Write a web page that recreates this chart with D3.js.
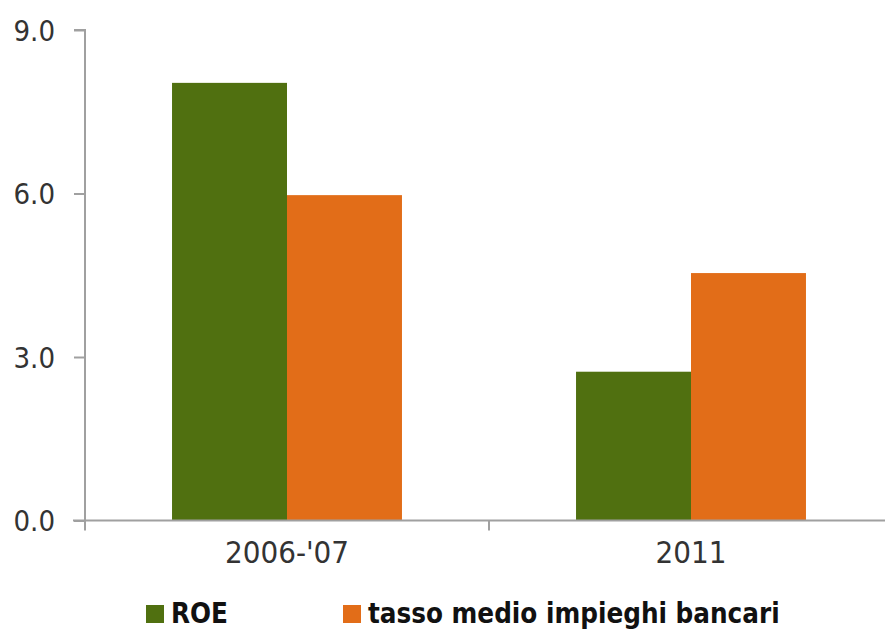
<!DOCTYPE html>
<html>
<head>
<meta charset="utf-8">
<script src="https://d3js.org/d3.v7.min.js"></script>
<style>
  body { margin: 0; background: #fff; }
  svg { display: block; }
  .lbl { font-family: "DejaVu Sans Condensed", "DejaVu Sans", sans-serif; fill: #333; }
  .leg { font-family: "DejaVu Sans Condensed", "DejaVu Sans", sans-serif; font-weight: bold; fill: #111; }
</style>
</head>
<body>
<script>
// data
var categories = ["2006-'07", "2011"];
var seriesNames = ["ROE", "tasso medio impieghi bancari"];
var roe = [8.03, 2.73];
var tasso = [5.97, 4.54];
var yTicks = [0, 3, 6, 9];
var colors = ["#507010", "#e26d18"];

var width = 885, height = 629;
var plotLeft = 85, plotTop = 30, plotBottom = 520.5, plotRight = 893;

var svg = d3.select("body").append("svg")
    .attr("width", width)
    .attr("height", height);

var x0 = d3.scaleBand()
    .domain(categories)
    .range([plotLeft, plotRight])
    .padding(0);

var x1 = d3.scaleBand()
    .domain(seriesNames)
    .range([0, x0.bandwidth()])
    .paddingInner(0)
    .paddingOuter(0.757);

var y = d3.scaleLinear()
    .domain([0, 9])
    .range([plotBottom, plotTop]);

var rows = categories.map(function(c, i) {
  return { cat: c, vals: [roe[i], tasso[i]] };
});

// bars
var g = svg.append("g").selectAll("g")
    .data(rows)
  .enter().append("g")
    .attr("transform", function(d) { return "translate(" + x0(d.cat) + ",0)"; });

g.selectAll("rect")
    .data(function(d) { return d.vals.map(function(v, j) { return { s: seriesNames[j], v: v, j: j }; }); })
  .enter().append("rect")
    .attr("x", function(d) { return x1(d.s); })
    .attr("y", function(d) { return y(d.v); })
    .attr("width", x1.bandwidth())
    .attr("height", function(d) { return y(0) - y(d.v); })
    .attr("fill", function(d) { return colors[d.j]; });

// y axis
var yAxis = svg.append("g")
    .attr("transform", "translate(" + plotLeft + ",0)")
    .call(d3.axisLeft(y).tickValues(yTicks).tickFormat(d3.format(".1f")).tickSize(11).tickPadding(19));
yAxis.select(".domain").attr("d", "M-11," + plotTop + "H0V" + (plotBottom + 10));

// x axis
var xAxis = svg.append("g")
    .attr("transform", "translate(0," + plotBottom + ")")
    .call(d3.axisBottom(x0).tickSize(0).tickPadding(20));
xAxis.select(".domain").attr("d", "M" + (plotLeft - 12) + ",0H" + plotRight);
xAxis.append("line")
    .attr("x1", x0(categories[1])).attr("x2", x0(categories[1]))
    .attr("y1", 0).attr("y2", 10);

svg.selectAll(".domain, .tick line, g > line")
    .attr("stroke", "#a0a0a0")
    .attr("stroke-width", 2);

yAxis.selectAll(".tick text")
    .attr("class", "lbl")
    .style("font-size", "29px")
    .attr("fill", "#333")
    .attr("dy", "0.36em");
xAxis.selectAll(".tick text")
    .attr("class", "lbl")
    .style("font-size", "31px")
    .attr("fill", "#333");

// legend
var legX = [146, 343];
var leg = svg.append("g").selectAll("g")
    .data(seriesNames)
  .enter().append("g")
    .attr("transform", function(d, i) { return "translate(" + legX[i] + ",605)"; });
leg.append("rect")
    .attr("width", 18).attr("height", 18)
    .attr("fill", function(d, i) { return colors[i]; });
leg.append("text")
    .attr("class", "leg")
    .attr("x", 25)
    .attr("y", 18)
    .style("font-size", "27.5px")
    .text(function(d) { return d; });
</script>
</body>
</html>
